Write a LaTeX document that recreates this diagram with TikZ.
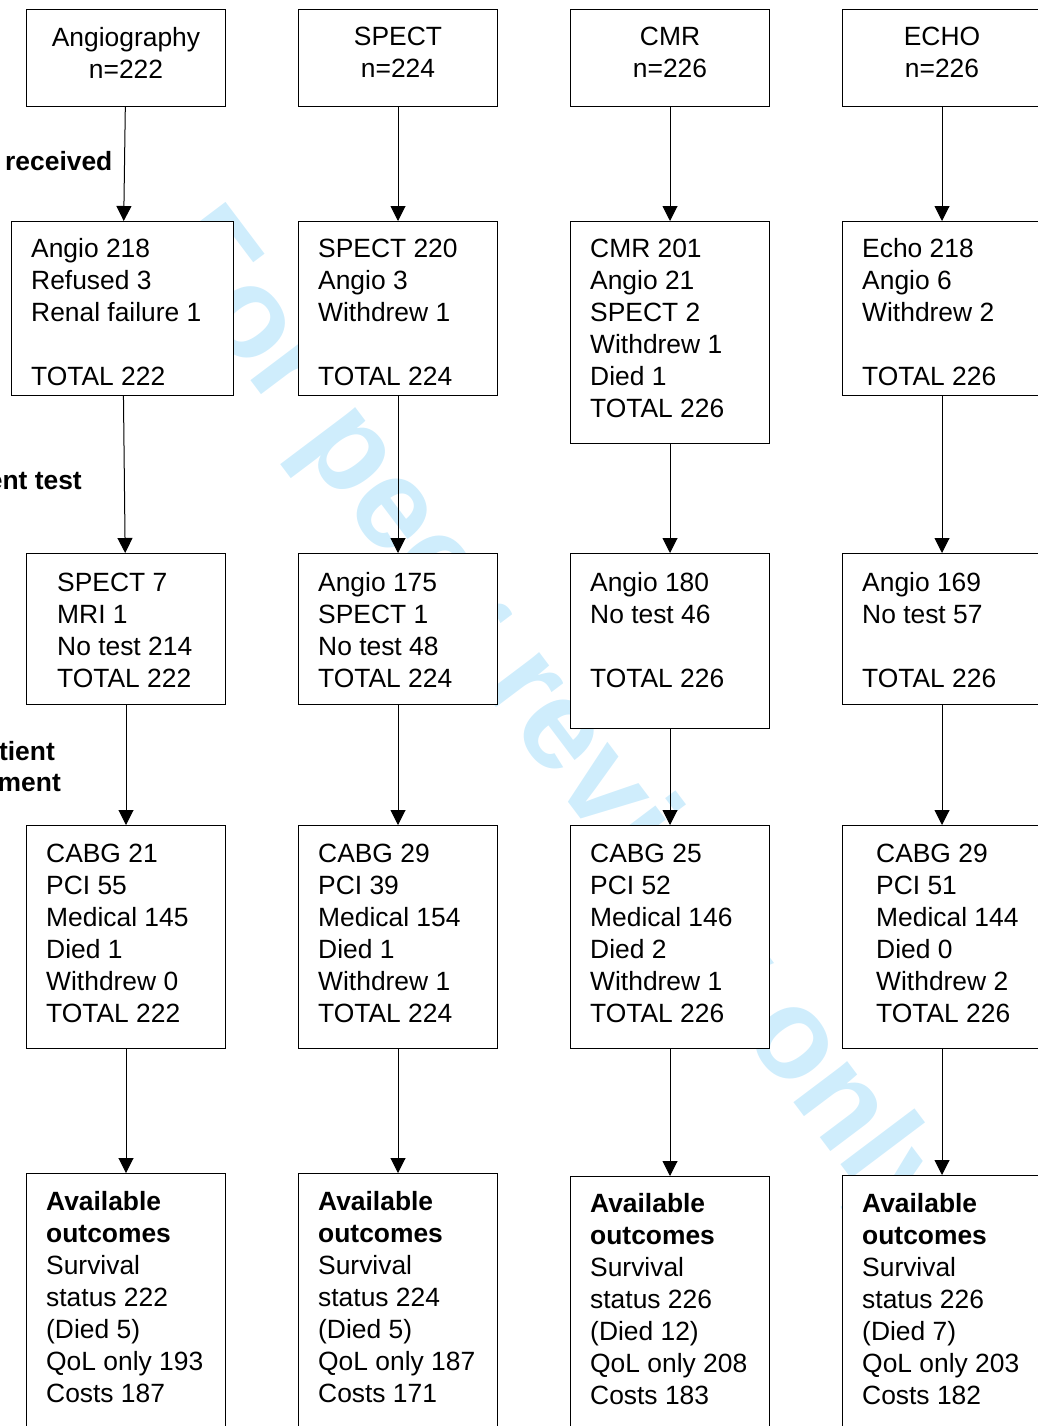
\documentclass[tikz,border=0pt]{standalone}
\usepackage{fontspec}
\setmainfont{Liberation Sans}
\usetikzlibrary{calc,positioning,arrows.meta}
\definecolor{wmblue}{RGB}{207,237,252}

\begin{document}
\begin{tikzpicture}[
  x=1pt,y=-1pt,
  box/.style={rectangle,line width=1pt,draw=black,fill=white,inner sep=0pt,minimum width=199pt,anchor=north west},
  box_head/.style={inner sep=0pt,anchor=north,align=center,font=\fontsize{26.4}{32}\selectfont},
  box_txt/.style={inner sep=0pt,anchor=north west,align=left,font=\fontsize{26.4}{32}\selectfont},
  side_lbl/.style={inner sep=0pt,font=\fontsize{26.4}{32}\selectfont\bfseries},
  flow/.style={line width=1pt,-{Triangle[width=15pt,length=15pt]}}
  ]

  \useasboundingbox (0,0) rectangle (1038,1426);
  \clip (0,0) rectangle (1038,1426);

%watermark
  \node (wm) [rotate=-53,text=wmblue,inner sep=0pt,font=\fontsize{128}{128}\selectfont\bfseries] at (552,726) {For peer review only};

%row labels
  \node (lbl_recv) [side_lbl,anchor=base west] at (5,170.7) {received};
  \node (lbl_test) [side_lbl,anchor=base east] at (82,489.3) {ent test};
  \node (lbl_mgmt_a) [side_lbl,anchor=base east] at (55,760.7) {tient};
  \node (lbl_mgmt_b) [side_lbl,anchor=base east] at (61,791.7) {ment};

%angiography
  \node (A_1) [box,minimum height=97pt] at (26,9) {};
  \node (A_1_txt) [box_head] at ($(A_1.north)+(0,18.3)$) {Angiography\\n=222};
  \node (A_2) [box,minimum width=222pt,minimum height=174pt] at (11,221) {};
  \node (A_2_txt) [box_txt] at ($(A_2.north west)+(20,17.5)$) {Angio 218\\Refused 3\\Renal failure 1\\[32pt]TOTAL 222};
  \node (A_3) [box,minimum height=151pt] at (26,553) {};
  \node (A_3_txt) [box_txt] at ($(A_3.north west)+(31,19.5)$) {SPECT 7\\MRI 1\\No test 214\\TOTAL 222};
  \node (A_4) [box,minimum height=223pt] at (26,825) {};
  \node (A_4_txt) [box_txt] at ($(A_4.north west)+(20,19)$) {CABG 21\\PCI 55\\Medical 145\\Died 1\\Withdrew 0\\TOTAL 222};
  \node (A_5) [box,minimum height=280pt] at (26,1173) {};
  \node (A_5_txt) [box_txt] at ($(A_5.north west)+(20,18.5)$) {\textbf{Available}\\\textbf{outcomes}\\Survival\\status 222\\(Died 5)\\QoL only 193\\Costs 187};

%spect
  \node (S_1) [box,minimum height=97pt] at (298,9) {};
  \node (S_1_txt) [box_head] at ($(S_1.north)+(0,18.3)$) {SPECT\\n=224};
  \node (S_2) [box,minimum height=174pt] at (298,221) {};
  \node (S_2_txt) [box_txt] at ($(S_2.north west)+(20,17.5)$) {SPECT 220\\Angio 3\\Withdrew 1\\[32pt]TOTAL 224};
  \node (S_3) [box,minimum height=151pt] at (298,553) {};
  \node (S_3_txt) [box_txt] at ($(S_3.north west)+(20,19.5)$) {Angio 175\\SPECT 1\\No test 48\\TOTAL 224};
  \node (S_4) [box,minimum height=223pt] at (298,825) {};
  \node (S_4_txt) [box_txt] at ($(S_4.north west)+(20,19)$) {CABG 29\\PCI 39\\Medical 154\\Died 1\\Withdrew 1\\TOTAL 224};
  \node (S_5) [box,minimum height=280pt] at (298,1173) {};
  \node (S_5_txt) [box_txt] at ($(S_5.north west)+(20,18.5)$) {\textbf{Available}\\\textbf{outcomes}\\Survival\\status 224\\(Died 5)\\QoL only 187\\Costs 171};

%cmr
  \node (C_1) [box,minimum height=97pt] at (570,9) {};
  \node (C_1_txt) [box_head] at ($(C_1.north)+(0,18.3)$) {CMR\\n=226};
  \node (C_2) [box,minimum height=222pt] at (570,221) {};
  \node (C_2_txt) [box_txt] at ($(C_2.north west)+(20,17.5)$) {CMR 201\\Angio 21\\SPECT 2\\Withdrew 1\\Died 1\\TOTAL 226};
  \node (C_3) [box,minimum height=175pt] at (570,553) {};
  \node (C_3_txt) [box_txt] at ($(C_3.north west)+(20,19.5)$) {Angio 180\\No test 46\\[32pt]TOTAL 226};
  \node (C_4) [box,minimum height=223pt] at (570,825) {};
  \node (C_4_txt) [box_txt] at ($(C_4.north west)+(20,19)$) {CABG 25\\PCI 52\\Medical 146\\Died 2\\Withdrew 1\\TOTAL 226};
  \node (C_5) [box,minimum height=280pt] at (570,1176) {};
  \node (C_5_txt) [box_txt] at ($(C_5.north west)+(20,17.5)$) {\textbf{Available}\\\textbf{outcomes}\\Survival\\status 226\\(Died 12)\\QoL only 208\\Costs 183};

%echo
  \node (E_1) [box,minimum height=97pt] at (842,9) {};
  \node (E_1_txt) [box_head] at ($(E_1.north)+(0,18.3)$) {ECHO\\n=226};
  \node (E_2) [box,minimum height=174pt] at (842,221) {};
  \node (E_2_txt) [box_txt] at ($(E_2.north west)+(20,17.5)$) {Echo 218\\Angio 6\\Withdrew 2\\[32pt]TOTAL 226};
  \node (E_3) [box,minimum height=151pt] at (842,553) {};
  \node (E_3_txt) [box_txt] at ($(E_3.north west)+(20,19.5)$) {Angio 169\\No test 57\\[32pt]TOTAL 226};
  \node (E_4) [box,minimum height=223pt] at (842,825) {};
  \node (E_4_txt) [box_txt] at ($(E_4.north west)+(34,19)$) {CABG 29\\PCI 51\\Medical 144\\Died 0\\Withdrew 2\\TOTAL 226};
  \node (E_5) [box,minimum height=280pt] at (842,1175) {};
  \node (E_5_txt) [box_txt] at ($(E_5.north west)+(20,18)$) {\textbf{Available}\\\textbf{outcomes}\\Survival\\status 226\\(Died 7)\\QoL only 203\\Costs 182};

%arrows
  \draw [flow] (A_1) -- (A_2);
  \draw [flow] (A_2) -- (A_3);
  \draw [flow] (A_3) -- (A_4);
  \draw [flow] (A_4) -- (A_5);
  \draw [flow] (S_1) -- (S_2);
  \draw [flow] (S_2) -- (S_3);
  \draw [flow] (S_3) -- (S_4);
  \draw [flow] (S_4) -- (S_5);
  \draw [flow] (C_1) -- (C_2);
  \draw [flow] (C_2) -- (C_3);
  \draw [flow] (C_3) -- (C_4);
  \draw [flow] (C_4) -- (C_5);
  \draw [flow] (E_1) -- (E_2);
  \draw [flow] (E_2) -- (E_3);
  \draw [flow] (E_3) -- (E_4);
  \draw [flow] (E_4) -- (E_5);

\end{tikzpicture}
\end{document}
